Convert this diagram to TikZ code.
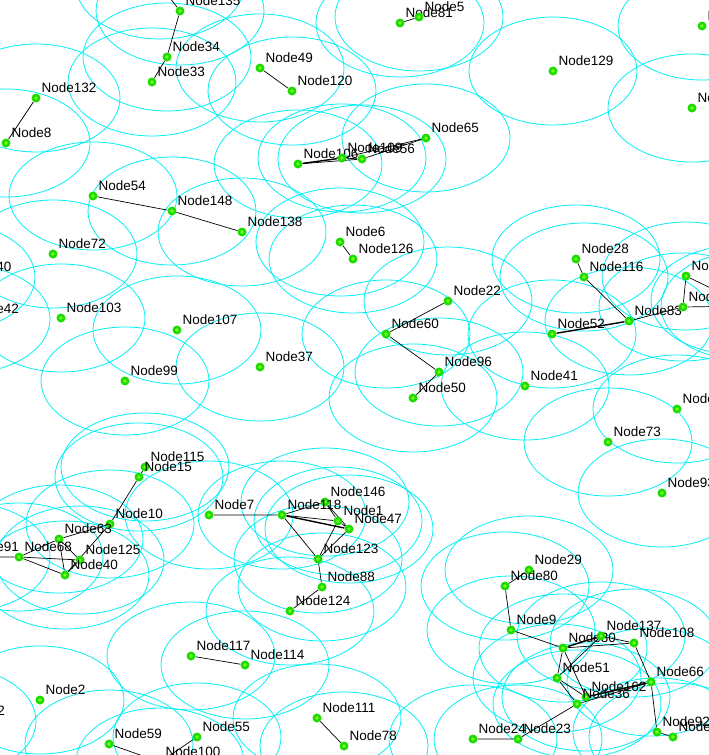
\documentclass[tikz,border=0pt]{standalone}
\usepackage{fontspec}
\setmainfont{Liberation Sans}
\usetikzlibrary{backgrounds}
\definecolor{moteGreen}{RGB}{30,220,0}
\definecolor{moteLight}{RGB}{120,255,40}
\definecolor{rangeCyan}{RGB}{0,240,245}

\begin{document}
\begin{tikzpicture}[x=1pt,y=-1pt,label distance=3pt]
		\tikzstyle{mote}=[circle,fill=moteGreen,minimum size=9pt,inner sep=0pt,
			path picture={\fill[moteLight] (path picture bounding box.center) circle (1.8pt);}]
		\tikzstyle{every label}=[font=\fontsize{13.5}{14}\selectfont,inner sep=0pt]
		\tikzstyle{radiorange}=[rangeCyan,line width=0.8pt]
		\tikzstyle{link}=[black,line width=0.7pt]
		\tikzstyle{strong}=[black,line width=1.4pt]

		\useasboundingbox (0,0) rectangle (709,755);

		\node[mote, label=45:Node11] (n11) at (160,-15) {};
		\node[mote, label=45:Node135] (n135) at (180,11) {};
		\node[mote, label=45:Node34] (n34) at (167,57) {};
		\node[mote, label=45:Node33] (n33) at (152,82) {};
		\node[mote, label=45:Node132] (n132) at (36,98) {};
		\node[mote, label=45:Node8] (n8) at (6,143) {};
		\node[mote, label=45:Node54] (n54) at (93,196) {};
		\node[mote, label=45:Node148] (n148) at (172,211) {};
		\node[mote, label=45:Node138] (n138) at (242,232) {};
		\node[mote, label=45:Node72] (n72) at (53,254) {};
		\node[mote, label=45:Node81] (n81) at (400,23) {};
		\node[mote, label=45:Node5] (n5) at (419,17) {};
		\node[mote, label=45:Node49] (n49) at (260,68) {};
		\node[mote, label=45:Node120] (n120) at (292,91) {};
		\node[mote, label=45:Node65] (n65) at (426,138) {};
		\node[mote, label=45:Node106] (n106) at (298,164) {};
		\node[mote, label=45:Node109] (n109) at (342,158) {};
		\node[mote, label=45:Node56] (n56) at (362,159) {};
		\node[mote, label=45:Node6] (n6) at (340,242) {};
		\node[mote, label=45:Node126] (n126) at (353,259) {};
		\node[mote, label=45:Node129] (n129) at (553,71) {};
		\node[mote, label=45:Node144] (n144) at (702,26) {};
		\node[mote, label=45:Node18] (n18) at (692,108) {};
		\node[mote, label=45:Node28] (n28) at (576,259) {};
		\node[mote, label=45:Node116] (n116) at (584,277) {};
		\node[mote, label=45:Node83] (n83) at (629,321) {};
		\node[mote, label=45:Node52] (n52) at (552,334) {};
		\node[mote, label=45:Node104] (n104) at (686,276) {};
		\node[mote, label=45:Node13] (n13) at (683,307) {};
		\node[mote, label=45:Node19] (n19) at (735,300) {};
		\node[mote, label=45:Node27] (n27) at (745,306) {};
		\node[mote, label=45:Node41] (n41) at (525,386) {};
		\node[mote, label=45:Node44] (n44) at (677,409) {};
		\node[mote, label=45:Node73] (n73) at (608,442) {};
		\node[mote, label=45:Node93] (n93) at (662,493) {};
		\node[mote, label=45:Node140] (n140) at (-49,277) {};
		\node[mote, label=45:Node42] (n42) at (-34,319) {};
		\node[mote, label=45:Node103] (n103) at (61,318) {};
		\node[mote, label=45:Node107] (n107) at (177,330) {};
		\node[mote, label=45:Node99] (n99) at (125,381) {};
		\node[mote, label=45:Node115] (n115) at (145,467) {};
		\node[mote, label=45:Node15] (n15) at (139,477) {};
		\node[mote, label=45:Node22] (n22) at (448,301) {};
		\node[mote, label=45:Node60] (n60) at (386,334) {};
		\node[mote, label=45:Node96] (n96) at (439,372) {};
		\node[mote, label=45:Node50] (n50) at (413,398) {};
		\node[mote, label=45:Node37] (n37) at (260,367) {};
		\node[mote, label=45:Node146] (n146) at (325,502) {};
		\node[mote, label=45:Node10] (n10) at (110,524) {};
		\node[mote, label=45:Node63] (n63) at (59,539) {};
		\node[mote, label=45:Node68] (n68) at (19,557) {};
		\node[mote, label=45:Node91] (n91) at (-34,557) {};
		\node[mote, label=45:Node125] (n125) at (80,560) {};
		\node[mote, label=45:Node40] (n40) at (65,575) {};
		\node[mote, label=45:Node117] (n117) at (191,656) {};
		\node[mote, label=45:Node114] (n114) at (245,665) {};
		\node[mote, label=45:Node2] (n2) at (40,700) {};
		\node[mote, label=45:Node12] (n12) at (-48,721) {};
		\node[mote, label=45:Node59] (n59) at (109,744) {};
		\node[mote, label=45:Node55] (n55) at (197,737) {};
		\node[mote, label=45:Node100] (n100) at (160,762) {};
		\node[mote, label=45:Node7] (n7) at (209,515) {};
		\node[mote, label=45:Node118] (n118) at (282,515) {};
		\node[mote, label=45:Node1] (n1) at (338,521) {};
		\node[mote, label=45:Node47] (n47) at (349,529) {};
		\node[mote, label=45:Node123] (n123) at (318,559) {};
		\node[mote, label=45:Node88] (n88) at (322,587) {};
		\node[mote, label=45:Node124] (n124) at (290,611) {};
		\node[mote, label=45:Node111] (n111) at (317,718) {};
		\node[mote, label=45:Node78] (n78) at (344,746) {};
		\node[mote, label=45:Node24] (n24) at (473,739) {};
		\node[mote, label=45:Node29] (n29) at (529,570) {};
		\node[mote, label=45:Node80] (n80) at (505,586) {};
		\node[mote, label=45:Node9] (n9) at (511,630) {};
		\node[mote, label=45:Node30] (n30) at (563,648) {};
		\node[mote, label=45:Node137] (n137) at (601,636) {};
		\node[mote, label=45:Node108] (n108) at (634,643) {};
		\node[mote, label=45:Node51] (n51) at (557,678) {};
		\node[mote, label=45:Node66] (n66) at (651,682) {};
		\node[mote, label=45:Node162] (n162) at (586,697) {};
		\node[mote, label=45:Node36] (n36) at (577,704) {};
		\node[mote, label=45:Node23] (n23) at (518,739) {};
		\node[mote, label=45:Node92] (n92) at (657,732) {};
		\node[mote, label=45:Node97] (n97) at (673,737) {};

		\begin{scope}[on background layer]
		\fill[white] (0,0) rectangle (709,755);
		\foreach \n in {n11,n135,n34,n33,n132,n8,n54,n148,n138,n72,n81,n5,n49,n120,n65,n106,n109,n56,n6,n126,
			n129,n144,n18,n28,n116,n83,n52,n104,n13,n19,n27,n41,n44,n73,n93,n140,n42,n103,n107,n99,n115,n15,
			n22,n60,n96,n50,n37,n146,n10,n63,n68,n91,n125,n40,n117,n114,n2,n12,n59,n55,n100,n7,n118,n1,n47,
			n123,n88,n124,n111,n78,n24,n29,n80,n9,n30,n137,n108,n51,n66,n162,n36,n23,n92,n97}
			\draw[radiorange] (\n) ellipse [x radius=84pt, y radius=54pt];

		\draw[link] (n11) -- (n135) -- (n34) -- (n33);
		\draw[link] (n132) -- (n8);
		\draw[link] (n54) -- (n148) -- (n138);
		\draw[link] (n81) -- (n5);
		\draw[link] (n49) -- (n120);
		\draw[strong] (n106) -- (n109);
		\draw[link] (n106) -- (n56);
		\draw[link] (n109) -- (n56) -- (n65);
		\draw[link] (n109) -- (n65);
		\draw[link] (n6) -- (n126);
		\draw[link] (n28) -- (n116) -- (n83);
		\draw[strong] (n52) -- (n83);
		\draw[link] (n83) -- (n13) -- (n104) -- (n19);
		\draw[link] (n13) -- (n27);
		\draw[link] (n22) -- (n60) -- (n96) -- (n50);
		\draw[link] (n115) -- (n15) -- (n10);
		\draw[link] (n10) -- (n63) -- (n68) -- (n91);
		\draw[link] (n10) -- (n40);
		\draw[link] (n63) -- (n125);
		\draw[link] (n63) -- (n40);
		\draw[link] (n68) -- (n125) -- (n40) -- (n68);
		\draw[link] (n117) -- (n114);
		\draw[link] (n59) -- (n100) -- (n55);
		\draw[link] (n7) -- (n118) -- (n146);
		\draw[link] (n118) -- (n1);
		\draw[strong] (n118) -- (n47);
		\draw[link] (n118) -- (n123);
		\draw[link] (n146) -- (n1) -- (n47) -- (n146);
		\draw[link] (n1) -- (n123) -- (n47);
		\draw[link] (n123) -- (n88) -- (n124);
		\draw[link] (n111) -- (n78);
		\draw[link] (n24) -- (n23) -- (n36);
		\draw[link] (n29) -- (n80) -- (n9) -- (n30);
		\draw[strong] (n30) -- (n137);
		\draw[link] (n30) -- (n108) -- (n137);
		\draw[link] (n30) -- (n51) -- (n137);
		\draw[link] (n30) -- (n162);
		\draw[link] (n51) -- (n36);
		\draw[link] (n51) -- (n162);
		\draw[strong] (n162) -- (n66);
		\draw[link] (n36) -- (n66);
		\draw[link] (n108) -- (n66) -- (n92) -- (n97);
		\end{scope}
\end{tikzpicture}
\end{document}
